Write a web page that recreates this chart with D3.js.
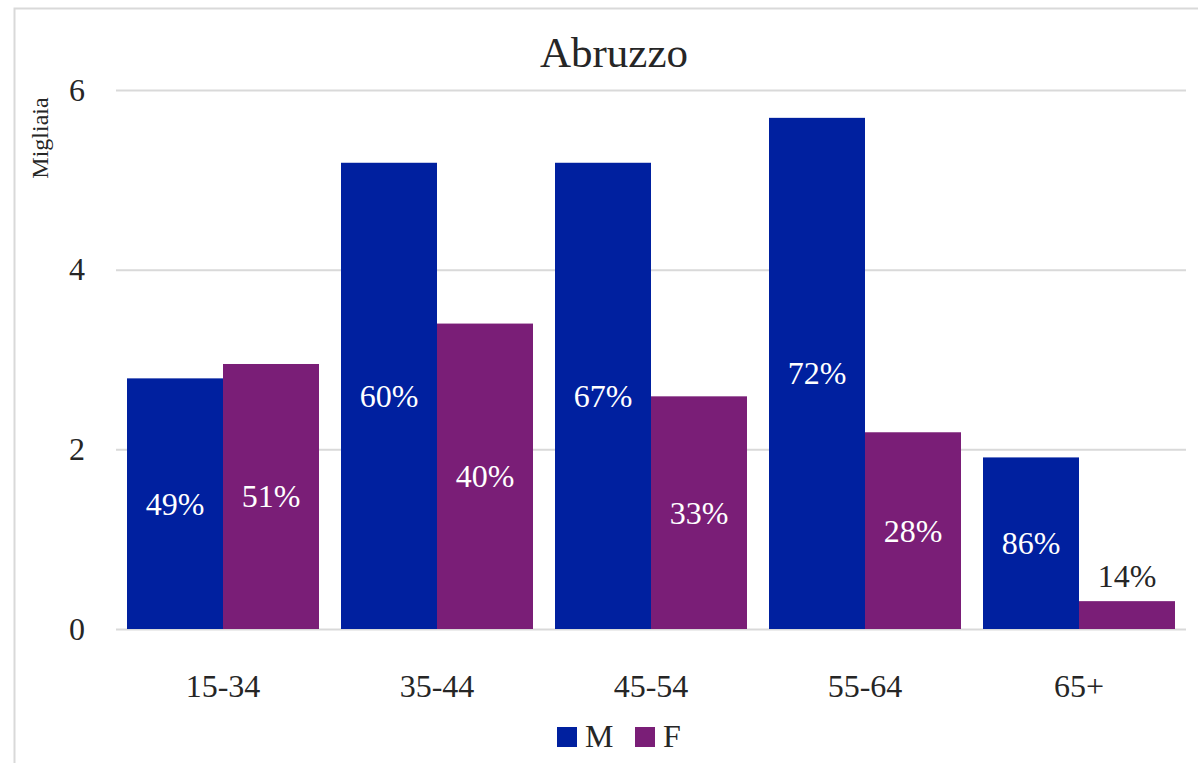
<!DOCTYPE html>
<html>
<head>
<meta charset="utf-8">
<script src="https://cdn.jsdelivr.net/npm/d3@7"></script>
<style>
  html, body { margin: 0; padding: 0; background: #fff; }
  svg { display: block; font-family: "Liberation Serif", "DejaVu Serif", serif; }
</style>
</head>
<body>
<svg id="chart" width="1198" height="763"></svg>
<script>
// === DATA ===

const AGE_GROUPS = ['15-34', '35-44', '45-54', '55-64', '65+'];
const SERIES = ['M', 'F'];
const VALUES_M = [2.79, 5.19, 5.19, 5.69, 1.91];
const VALUES_F = [2.95, 3.40, 2.59, 2.19, 0.31];
const PCT_M = ['49%', '60%', '67%', '72%', '86%'];
const PCT_F = ['51%', '40%', '33%', '28%', '14%'];
const Y_TICKS = [0, 2, 4, 6];

const COLORS = { M: '#00209f', F: '#7a1e77' };
const TEXT = '#262626';
const GRID = '#d9d9d9';

const plot = { left: 116, right: 1186, top: 90, bottom: 629 };

// === SCALES ===

const x0 = d3.scaleBand()
    .domain(AGE_GROUPS)
    .range([plot.left, plot.right])
    .paddingInner(22 / 214)
    .paddingOuter(11 / 214);

const x1 = d3.scaleBand()
    .domain(SERIES)
    .range([0, x0.bandwidth()]);

const y = d3.scaleLinear()
    .domain([0, 6])
    .range([plot.bottom, plot.top]);

const rows = AGE_GROUPS.map((g, i) => ({
    group: g,
    bars: [
        { key: 'M', value: VALUES_M[i], pct: PCT_M[i] },
        { key: 'F', value: VALUES_F[i], pct: PCT_F[i] }
    ]
}));

const svg = d3.select('#chart');

// chart frame
svg.append('rect')
    .attr('x', 14.5).attr('y', 8.5)
    .attr('width', 1220).attr('height', 800)
    .attr('fill', '#fff')
    .attr('stroke', GRID)
    .attr('stroke-width', 2);

// title
svg.append('text')
    .attr('x', 614).attr('y', 67)
    .attr('text-anchor', 'middle')
    .attr('font-size', 43)
    .attr('fill', TEXT)
    .text('Abruzzo');

// y axis title
svg.append('text')
    .attr('transform', 'translate(48, 138) rotate(-90)')
    .attr('text-anchor', 'middle')
    .attr('font-size', 24)
    .attr('fill', TEXT)
    .text('Migliaia');

// === GRID + Y AXIS ===

const yAxis = svg.append('g')
    .attr('transform', `translate(${plot.left}, 0)`)
    .call(d3.axisLeft(y)
        .tickValues(Y_TICKS)
        .tickFormat(d3.format('d'))
        .tickSize(-(plot.right - plot.left))
        .tickPadding(31));

yAxis.select('.domain').remove();
yAxis.selectAll('.tick line').attr('stroke', GRID).attr('stroke-width', 2);
yAxis.selectAll('.tick text')
    .attr('font-size', 32)
    .attr('font-family', '"Liberation Serif", serif')
    .attr('fill', TEXT);

// === BARS ===

const groups = svg.append('g').selectAll('g')
    .data(rows)
    .join('g')
    .attr('transform', d => `translate(${x0(d.group)}, 0)`);

groups.selectAll('rect')
    .data(d => d.bars)
    .join('rect')
    .attr('x', d => x1(d.key))
    .attr('y', d => y(d.value))
    .attr('width', x1.bandwidth())
    .attr('height', d => y(0) - y(d.value))
    .attr('fill', d => COLORS[d.key]);

// data labels: centred inside, above the bar when it is too short
groups.selectAll('text')
    .data(d => d.bars)
    .join('text')
    .attr('x', d => x1(d.key) + x1.bandwidth() / 2)
    .attr('y', d => {
        const h = y(0) - y(d.value);
        return h < 50 ? y(d.value) - 14 : (y(d.value) + y(0)) / 2 + 11;
    })
    .attr('text-anchor', 'middle')
    .attr('font-size', 32)
    .attr('fill', d => (y(0) - y(d.value)) < 50 ? TEXT : '#fff')
    .text(d => d.pct);

// === X AXIS ===

const xAxis = svg.append('g')
    .attr('transform', `translate(0, ${plot.bottom})`)
    .call(d3.axisBottom(x0).tickSize(0).tickPadding(45));

xAxis.select('.domain').remove();
xAxis.selectAll('.tick text')
    .attr('font-size', 32)
    .attr('font-family', '"Liberation Serif", serif')
    .attr('fill', TEXT);

// === LEGEND ===

const legend = svg.append('g').selectAll('g')
    .data(SERIES)
    .join('g')
    .attr('transform', (d, i) => `translate(${557 + i * 78}, 727)`);

legend.append('rect')
    .attr('width', 20).attr('height', 20)
    .attr('fill', d => COLORS[d]);

legend.append('text')
    .attr('x', 28).attr('y', 20)
    .attr('font-size', 32)
    .attr('fill', TEXT)
    .text(d => d);
</script>
</body>
</html>
